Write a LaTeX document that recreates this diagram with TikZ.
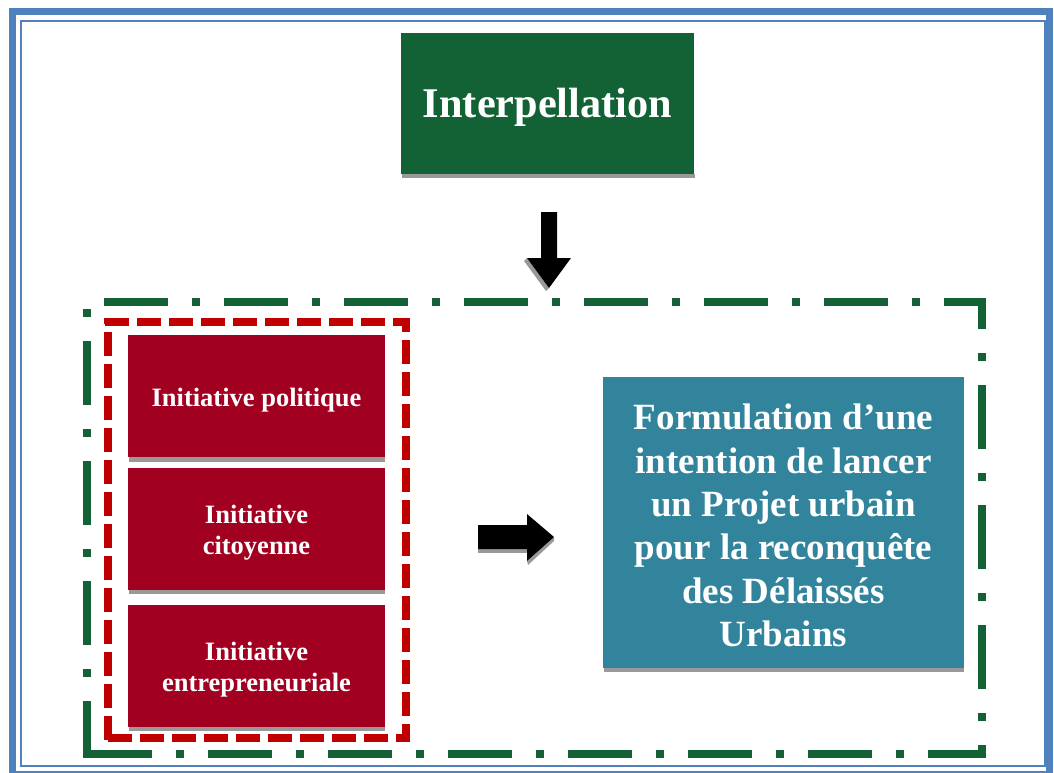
\documentclass[tikz,border=0pt]{standalone}
\usepackage{fontspec}
\setmainfont{Liberation Serif}
\definecolor{frameblue}{HTML}{4F81BD}
\definecolor{darkgreen}{HTML}{126235}
\definecolor{boxred}{HTML}{A10021}
\definecolor{dashred}{HTML}{C00000}
\definecolor{boxblue}{HTML}{32849C}
\begin{document}
\begin{tikzpicture}[x=1pt,y=-1pt,
  box/.style={draw=none, inner sep=0pt, align=center, text=white, font=\bfseries},
  shadowstrip/.style={fill=black!40},
  greenframe/.style={draw=darkgreen, line width=8pt, dash pattern=on 64pt off 24pt on 8pt off 24pt},
  redframe/.style={draw=dashred, line width=8pt, dash pattern=on 24pt off 8pt},
  blockarrow/.style={fill=black},
  arrowshadow/.style={fill=black!40}]
\useasboundingbox (0,0) rectangle (1054,772);
% page frame
\draw[frameblue, line width=7pt] (12.5,11.5) rectangle (1049.5,774);
\draw[frameblue, line width=2pt] (21,20.5) rectangle (1045,766);
% green dash-dot frame (sides drawn separately, as in the reference)
\draw[greenframe, dash phase=99pt] (83,302) -- (986,302);
\draw[greenframe, dash phase=33pt] (982,298) -- (982,758);
\draw[greenframe, dash phase=115pt] (83,754) -- (986,754);
\draw[greenframe, dash phase=77pt] (87,298) -- (87,758);
% red dashed frame
\draw[redframe, dash phase=31pt] (104,322) -- (410,322);
\draw[redframe, dash phase=10pt] (406,318) -- (406,742);
\draw[redframe, dash phase=28pt] (104,738) -- (410,738);
\draw[redframe, dash phase=18pt] (108,318) -- (108,742);
% shadows
\fill[shadowstrip] (402,174) rectangle (695,178);
\fill[shadowstrip] (129,457) rectangle (385,462);
\fill[shadowstrip] (129,590) rectangle (385,594);
\fill[shadowstrip] (129,727) rectangle (385,731);
\fill[shadowstrip] (604,668) rectangle (964,672);
% boxes
\node[box, fill=darkgreen, minimum width=293pt, minimum height=141pt] (interp) at (547.5,103.5) {};
\node[text=white, font=\bfseries\fontsize{42.3}{48}\selectfont, inner sep=0pt] (interpt) at (547.5,107.5) {Interpellation};
\node[box, fill=boxred, minimum width=257pt, minimum height=122pt] (pol) at (256.5,396) {};
\node[box, fill=boxred, minimum width=257pt, minimum height=122pt] (cit) at (256.5,529) {};
\node[box, fill=boxred, minimum width=257pt, minimum height=122pt] (ent) at (256.5,666) {};
\node[box, font=\bfseries\fontsize{26.5}{31}\selectfont] (polt) at (256.5,400) {Initiative politique};
\node[box, font=\bfseries\fontsize{26.5}{31}\selectfont] (citt) at (256.5,533) {Initiative\\citoyenne};
\node[box, font=\bfseries\fontsize{26.5}{31}\selectfont] (entt) at (256.5,670) {Initiative\\entrepreneuriale};
\node[box, fill=boxblue, minimum width=361pt, minimum height=291pt] (form) at (783.5,522.5) {};
\node[box, font=\bfseries\fontsize{37}{43.4}\selectfont] (formt) at (783.5,525.5) {Formulation d’une\\intention de lancer\\un Projet urbain\\pour la reconquête\\des Délaissés\\Urbains};
% down arrow
\fill[arrowshadow] (524,261) -- (546,291) -- (549,288) -- (527,258) -- cycle;
\fill[blockarrow] (541,212) -- (557,212) -- (557,258) -- (571,258) -- (549,288) -- (527,258) -- (541,258) -- cycle;
% right arrow
\fill[arrowshadow] (478,549) rectangle (527,553);
\fill[arrowshadow] (527,561) -- (554,537) -- (554,541) -- (528,565) -- cycle;
\fill[blockarrow] (478,525) -- (527,525) -- (527,514) -- (554,537) -- (527,561) -- (527,549) -- (478,549) -- cycle;
\end{tikzpicture}
\end{document}
